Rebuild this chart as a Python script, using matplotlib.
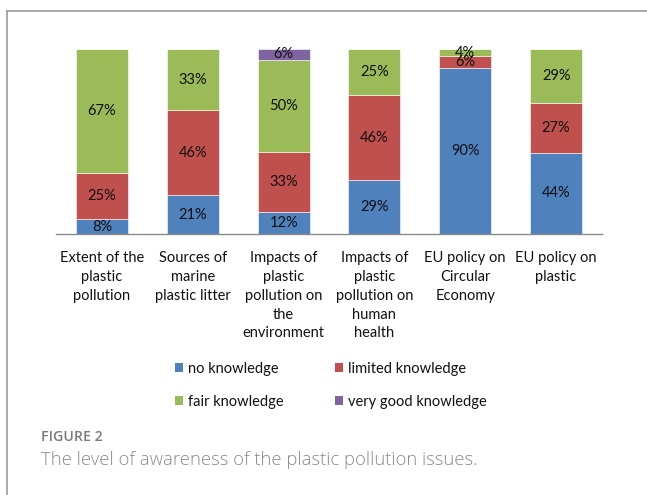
import numpy as np
import matplotlib
matplotlib.use("Agg")
import matplotlib.pyplot as plt
from matplotlib.patches import Patch
from matplotlib.lines import Line2D

# survey answers per topic, in percent
topics = ["Extent of the\nplastic\npollution",
          "Sources of\nmarine\nplastic litter",
          "Impacts of\nplastic\npollution on\nthe\nenvironment",
          "Impacts of\nplastic\npollution on\nhuman\nhealth",
          "EU policy on\nCircular\nEconomy",
          "EU policy on\nplastic"]
no_knowledge = [8, 21, 12, 29, 90, 44]
limited_knowledge = [25, 46, 33, 46, 6, 27]
fair_knowledge = [67, 33, 50, 25, 4, 29]
very_good_knowledge = [0, 0, 6, 0, 0, 0]

series = [("no knowledge", no_knowledge, "#4F81BD"),
          ("limited knowledge", limited_knowledge, "#C0504D"),
          ("fair knowledge", fair_knowledge, "#9BBB59"),
          ("very good knowledge", very_good_knowledge, "#8064A2")]

FONT = "Lato"
FS = 10.5
W, H = 647, 495

fig = plt.figure(figsize=(W / 100, H / 100), dpi=100)
ax = fig.add_axes([56.5 / W, 1 - 234 / H, 545 / W, 185 / H])

x = np.arange(len(topics))
totals = np.sum([s[1] for s in series], axis=0)
bottom = np.zeros(len(topics))
for name, vals, col in series:
    vals = np.array(vals, dtype=float)
    share = vals / totals  # 100% stacked
    ax.bar(x, share, 0.573, bottom=bottom, color=col, edgecolor="#ffffff",
           linewidth=0.4, label=name)
    for xi, v, s, b in zip(x, vals, share, bottom):
        if v > 0:
            ax.text(xi, b + s / 2, f"{v:.0f}%", ha="center", va="center",
                    fontsize=FS, family=FONT, color="#111111")
    bottom += share

ax.set_xlim(-0.5, len(topics) - 0.5)
ax.set_ylim(0, 1)
ax.set_yticks([])
ax.set_xticks(x)
ax.set_xticklabels(topics, fontsize=FS, family=FONT, color="#111111",
                   linespacing=1.45)
ax.tick_params(axis="x", length=0, pad=12)
for side in ["top", "right", "left"]:
    ax.spines[side].set_visible(False)
ax.spines["bottom"].set_color("#8a8a8a")
ax.spines["bottom"].set_linewidth(1.0)

# legend filled column by column
order = [0, 2, 1, 3]
handles = [Patch(facecolor=series[i][2], edgecolor="none") for i in order]
labels = [series[i][0] for i in order]
fig.legend(handles, labels, ncol=2, frameon=False, loc="upper left",
           bbox_to_anchor=(175 / W, 1 - 362 / H), borderpad=0, borderaxespad=0,
           prop={"family": FONT, "size": FS},
           handlelength=0.55, handleheight=0.55, handletextpad=0.35,
           columnspacing=3.5, labelspacing=1.3, labelcolor="#111111")

# frame around the figure panel
fig.add_artist(Line2D([7 / W, 1], [1 - 11 / H, 1 - 11 / H], color="#9a9a9a",
                      lw=1.2, transform=fig.transFigure))
fig.add_artist(Line2D([7 / W, 7 / W], [0, 1 - 11 / H], color="#9a9a9a",
                      lw=1.2, transform=fig.transFigure))

fig.text(41 / W, 1 - 437 / H, "FIGURE 2", fontsize=10.2, family="Open Sans",
         fontweight="semibold", color="#7a7a7a", va="center")
fig.text(41 / W, 1 - 460 / H, "The level of awareness of the plastic pollution issues.",
         fontsize=13.3, family="Open Sans", fontweight="light", color="#8a8a8a",
         va="center")

fig.savefig("out.png", dpi=100)
